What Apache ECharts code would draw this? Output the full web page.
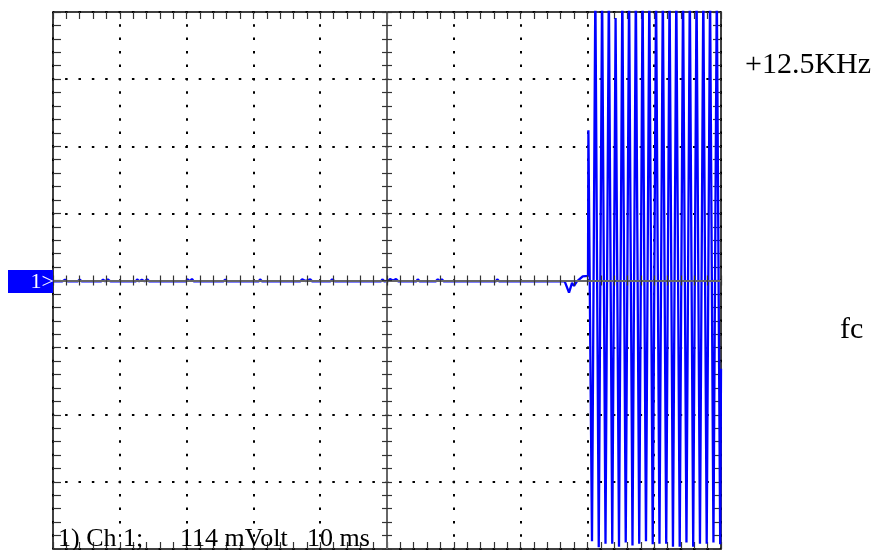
<!DOCTYPE html>
<html>
<head>
<meta charset="utf-8">
<script src="https://cdn.jsdelivr.net/npm/echarts@6/dist/echarts.min.js"></script>
<style>html,body{margin:0;padding:0;background:#fff;}#c{width:883px;height:550px;}</style>
</head>
<body>
<div id="c"></div>
<script>
// Time axis in ms relative to screen centre (10 ms/div), amplitude in mV (114 mV/div)
const xTicks = { min: -50, max: 50, interval: 10 };
const yTicks = { min: -456, max: 456, interval: 114 };

// Quiet part of the trace
const quietTime = [-50,-48.6,-48.2,-47.8,-46.9,-46.7,-46.3,-46.0,-45.7,-45.1,-44.9,-44.6,-42.8,-42.5,-42.2,-41.8,-41.4,-40.9,-40.7,-40.4,-37.6,-37.4,-37.1,-36.7,-36.3,-35.9,-35.6,-30.1,-29.9,-29.5,-29.2,-28.9,-24.5,-24.2,-23.9,-19.2,-19.0,-18.7,-13.0,-12.7,-12.2,-11.5,-11.2,-8.5,-8.2,-7.8,-5.4,-5.2,-4.9,-3.2,-3.0,-2.7,-0.9,-0.7,-0.4,0.2,0.45,0.9,1.35,1.7,4.4,4.6,4.9,7.3,7.6,7.9,8.2,8.5,13.0,13.2,13.5,16.3,16.5,16.8,19.7,19.9,20.2,22.7,22.9,23.2,26.6,27.25,27.7,28.0,28.4,29.3,30.09];
const quietMv   = [-1.5,-1.5,1.5,-1.5,-1,2,-1.5,1.5,-1.5,-1,2,-1.5,-1.5,1.5,-1.5,2,-1.5,-1,1.5,-1.5,-1.5,2,-1.5,1.5,-1.5,2,-1.5,-1.5,2,-1,2.5,-1.5,-1.5,1.5,-1.5,-1.5,2,-1.5,-1.5,2,-1,2,-1.5,-1.5,2,-1.5,-1.5,1.5,-1.5,-1.5,1.5,-1.5,-1.5,2,-1.5,-1,2.5,0,2.5,-1.5,-1.5,2,-1.5,-1.5,2,-1,2,-1.5,-1.5,1.5,-1.5,-1.5,2,-1.5,-1.5,1.5,-1.5,-1.5,1.5,-1.5,-1.5,-20.7,-4,-9,-2,7,8];

// Burst: onset stroke, then alternating troughs / clipped peaks
const burstTime = [30.15,30.69,31.19,31.70,32.20,32.71,33.21,33.72,34.22,34.73,35.23,35.74,36.24,36.75,37.25,37.76,38.26,38.77,39.27,39.78,40.28,40.79,41.29,41.80,42.30,42.81,43.31,43.82,44.32,44.83,45.33,45.84,46.34,46.85,47.35,47.86,48.36,48.87,49.37,49.88,50];
const burstMv   = [255,-443,500,-453,500,-447,500,-447,446,-452,500,-445,500,-450,500,-447,500,-443,500,-448,500,-447,500,-447,500,-452,500,-452,500,-445,500,-452,500,-447,500,-447,500,-445,500,-448,-150];

const traceData = quietTime.map((t, i) => [t, quietMv[i]])
  .concat(burstTime.map((t, i) => [t, burstMv[i]]));

const chart = echarts.init(document.getElementById('c'), null, { renderer: 'canvas' });

const G = { left: 53, top: 12, width: 668, height: 537 };
const borderLine = { show: true, lineStyle: { color: '#000', width: 1.5 } };
const borderTick = { show: true, inside: true, length: 7, lineStyle: { color: '#333', width: 1.2 } };
const borderMinor = { show: true, splitNumber: 5, length: 7, lineStyle: { color: '#333', width: 1.2 } };
const centerTick = { show: true, inside: false, length: 5, lineStyle: { color: '#333', width: 1.2 } };
const centerMinor = { show: true, splitNumber: 5, length: 5, lineStyle: { color: '#333', width: 1.2 } };
const noLabel = { show: false };

function xAx(extra) {
  return Object.assign({ type: 'value', gridIndex: 0, min: xTicks.min, max: xTicks.max, interval: xTicks.interval,
    axisLabel: noLabel, splitLine: { show: false }, axisLine: { onZero: false } }, extra);
}
function yAx(extra) {
  return Object.assign({ type: 'value', gridIndex: 0, min: yTicks.min, max: yTicks.max, interval: yTicks.interval,
    axisLabel: noLabel, splitLine: { show: false }, axisLine: { onZero: false } }, extra);
}

const option = {
  backgroundColor: '#ffffff',
  animation: false,
  grid: [Object.assign({ containLabel: false, outerBoundsMode: 'none' }, G)],
  xAxis: [
    xAx({ position: 'bottom', axisLine: Object.assign({ onZero: false }, borderLine), axisTick: borderTick, minorTick: borderMinor,
      splitLine: { show: true, lineStyle: { color: '#000', width: 2, type: [2.5, 10.925], dashOffset: 1.25 } } }),
    xAx({ position: 'top', axisLine: Object.assign({ onZero: false }, borderLine), axisTick: borderTick, minorTick: borderMinor }),
    xAx({ position: 'bottom', offset: -G.height / 2, z: 5,
      axisLine: { onZero: false, show: true, lineStyle: { color: '#666', width: 2 } }, axisTick: centerTick, minorTick: centerMinor }),
    xAx({ position: 'top', offset: -G.height / 2, z: 5,
      axisLine: { onZero: false, show: false }, axisTick: centerTick, minorTick: centerMinor })
  ],
  yAxis: [
    yAx({ position: 'left', axisLine: Object.assign({ onZero: false }, borderLine), axisTick: Object.assign({}, borderTick, { length: 8 }),
      minorTick: Object.assign({}, borderMinor, { length: 8 }),
      splitLine: { show: true, lineStyle: { color: '#000', width: 2, type: [2.5, 10.86], dashOffset: 1.25 } } }),
    yAx({ position: 'right', axisLine: Object.assign({ onZero: false }, borderLine), axisTick: Object.assign({}, borderTick, { length: 8 }),
      minorTick: Object.assign({}, borderMinor, { length: 8 }) }),
    yAx({ position: 'left', offset: -G.width / 2, z: 5,
      axisLine: { onZero: false, show: true, lineStyle: { color: '#666', width: 2 } }, axisTick: centerTick, minorTick: centerMinor }),
    yAx({ position: 'right', offset: -G.width / 2, z: 5,
      axisLine: { onZero: false, show: false }, axisTick: centerTick, minorTick: centerMinor })
  ],
  series: [{
    type: 'line',
    xAxisIndex: 0,
    yAxisIndex: 0,
    data: traceData,
    showSymbol: false,
    symbol: 'none',
    clip: true,
    sampling: 'none',
    lineStyle: { color: '#0000ff', width: 2.3 },
    z: 3
  }],
  graphic: [
    { type: 'rect', shape: { x: 8, y: 270, width: 45, height: 23 }, style: { fill: '#0000ff' }, z: 10 },
    { type: 'text', x: 54, y: 282, z: 11,
      style: { text: '1>', fill: '#ffffff', font: '22px "Liberation Serif", serif', align: 'right', verticalAlign: 'middle' } },
    { type: 'text', x: 745, y: 65, z: 11,
      style: { text: '+12.5KHz', fill: '#000', font: '30px "Liberation Serif", serif', align: 'left', verticalAlign: 'middle' } },
    { type: 'text', x: 840, y: 330, z: 11,
      style: { text: 'fc', fill: '#000', font: '30px "Liberation Serif", serif', align: 'left', verticalAlign: 'middle' } },
    { type: 'text', x: 58, y: 539, z: 11,
      style: { text: '1) Ch 1;', fill: '#000', font: '26px "Liberation Serif", serif', align: 'left', verticalAlign: 'middle' } },
    { type: 'text', x: 180, y: 539, z: 11,
      style: { text: '114 mVolt', fill: '#000', font: '26px "Liberation Serif", serif', align: 'left', verticalAlign: 'middle' } },
    { type: 'text', x: 307, y: 539, z: 11,
      style: { text: '10 ms', fill: '#000', font: '26px "Liberation Serif", serif', align: 'left', verticalAlign: 'middle' } }
  ]
};
chart.setOption(option);
</script>
</body>
</html>
